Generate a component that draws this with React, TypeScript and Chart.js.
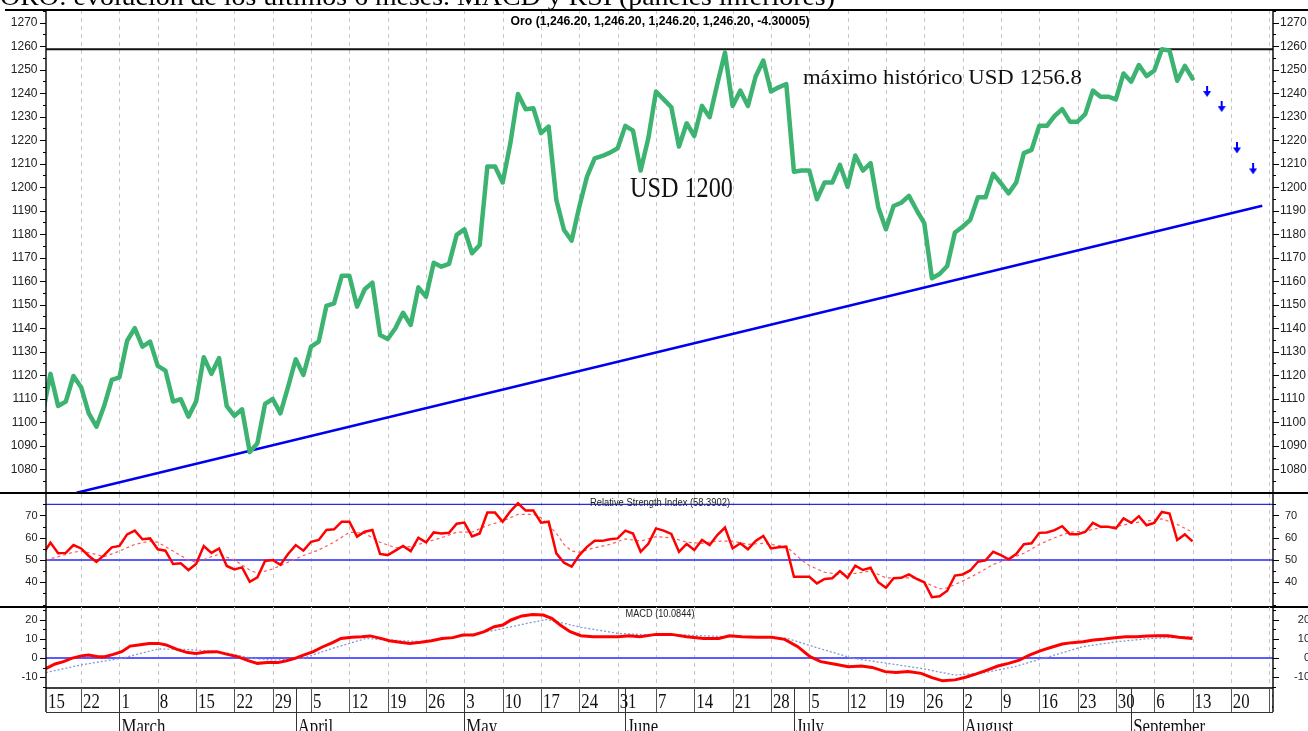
import React, { useEffect, useRef } from "react";
import { Chart, registerables } from "chart.js";

Chart.register(...registerables);

// ---------------- DATA ----------------
// trading-day index 0 = Mon 15 Feb 2010
const priceValues = [
  1104, 1120.6, 1106.9, 1108.8, 1119.7, 1114.9, 1103.8, 1098.1, 1106.9, 1118,
  1119.1, 1134.7, 1140, 1132.2, 1134.3, 1124, 1122, 1108.8, 1109.8, 1102.4,
  1108.8, 1127.7, 1120.6, 1127.3, 1106.9, 1102.7, 1105.5, 1087.3, 1091.1, 1107.8,
  1109.9, 1103.8, 1115.1, 1126.8, 1120.1, 1132.2, 1134.3, 1149.5, 1150.6, 1162.3,
  1162.3, 1149.2, 1156.6, 1159.4, 1137.1, 1135.4, 1140, 1146.6, 1141.4, 1157.4,
  1153.4, 1167.9, 1166.2, 1167.4, 1179.7, 1182.1, 1171.9, 1175.4, 1208.8, 1208.8,
  1202, 1218.7, 1239.7, 1233.2, 1233.6, 1223, 1225.8, 1194.6, 1181.8, 1177.3,
  1191.8, 1204.5, 1212.3, 1213.3, 1214.7, 1216.6, 1226.1, 1224.1, 1207.1, 1220.8,
  1240.7, 1237.4, 1234, 1217.3, 1227.2, 1221.8, 1234.6, 1229.8, 1243.9, 1257.3,
  1234.6, 1241.1, 1234.6, 1247.1, 1253.9, 1240.7, 1242.5, 1243.9, 1206.6, 1207.1,
  1207.1, 1194.9, 1202, 1202, 1209.5, 1200.2, 1213.5, 1207.1, 1210.2, 1191.5,
  1182.1, 1192, 1193.4, 1196.3, 1190.3, 1184.7, 1161.3, 1163.1, 1166.5, 1180.7,
  1183.2, 1186.1, 1195.7, 1195.7, 1205.7, 1201.7, 1197.4, 1202, 1214.5, 1215.9,
  1226.1, 1226.1, 1230.3, 1233.2, 1227.9, 1227.9, 1231.1, 1241.1, 1238.5, 1238.5,
  1237.4, 1248.4, 1244.9, 1252, 1247.3, 1249.6, 1258.7, 1258.1, 1245.3, 1251.6,
  1246.2,
];

const rsiValues = [
  52.5, 57.8, 53, 53.2, 56.7, 55.2, 51.8, 49.2, 52.2, 55.7,
  56.3, 61.5, 63.2, 59.3, 59.7, 54.8, 54.2, 48.2, 48.5, 45.5,
  48.2, 56.3, 53.2, 55.2, 47.3, 45.8, 46.7, 40.2, 42.2, 49.6,
  50, 47.8, 52.7, 56.7, 54.2, 58.2, 59, 63.5, 63.8, 67.2,
  67.2, 60.5, 62.7, 63.5, 52.7, 52.2, 54.2, 56.3, 54, 60,
  57.9, 62.4, 61.9, 62.2, 66.3, 66.8, 60.6, 61.9, 71.3, 71.3,
  67.2, 71.9, 75.5, 72.2, 72.2, 66.8, 67.2, 53, 48.8, 47,
  52.2, 55.9, 58.6, 58.6, 59.3, 59.7, 63.2, 61.9, 53.7, 57.3,
  64.2, 63.2, 61.7, 53.7, 57.2, 54.5, 59, 56.7, 61.2, 64.6,
  55.2, 57.5, 54.8, 58.6, 60.8, 55.2, 55.7, 56, 42.5, 42.5,
  42.5, 39.5, 41.5, 41.8, 45, 42, 47.5, 45.5, 46.5, 40,
  37.5, 41.8, 42, 43.5, 41.5, 40, 33.3, 33.7, 36.2, 43,
  43.5, 45.3, 49.2, 49.8, 53.7, 52.2, 50.3, 52.7, 57.1, 57.5,
  62.2, 62.4, 63.4, 65.2, 61.6, 61.6, 62.6, 66.7, 64.9, 64.9,
  64.2, 68.7, 66.7, 69.7, 65.6, 66.7, 71.6, 70.9, 59, 61.5,
  58.4,
];

const rsiSignalIdx = [
  0.4, 2, 4, 5, 7, 8, 10, 12, 14, 15, 17, 19, 20, 22, 23, 25, 27, 28, 30, 32,
  34, 36, 38, 40, 42, 44, 46, 48, 50, 52, 54, 56, 58, 60, 62, 64, 65, 67, 68, 69,
  70, 72, 74, 76, 78, 80, 82, 84, 86, 88, 90, 92, 94, 96, 97, 98, 99, 100, 102, 104,
  106, 108, 110, 112, 114, 116, 117, 118, 120, 122, 124, 126, 128, 130, 132, 134, 136, 138, 140, 142,
  144, 146, 148, 150,
];
const rsiSignalVals = [
  50, 51.5, 53.5, 54, 52.5, 51.5, 54, 57, 58.5, 58, 54, 50, 49, 51.5, 52.5, 50, 45.5, 44, 46, 49,
  52, 54.5, 58, 62.5, 62, 58, 55.5, 56, 58, 60, 62.5, 62.5, 65.5, 67.5, 70.5, 70.5, 69, 62, 57, 54,
  53.5, 55.5, 57, 59.5, 58.5, 60.5, 60, 58, 57.5, 58.5, 58.5, 57, 57.5, 56.5, 56, 53, 50, 47.5, 44.5, 43.5,
  44, 45, 42, 42, 42, 38.5, 37, 37.5, 40.5, 44, 48, 50.5, 53, 57, 60, 62.5, 63, 64.5, 65, 66.5,
  67.5, 68.5, 66, 62.5,
];

const macdIdx = [
  0.4, 1.6, 2.7, 3.75, 5, 6, 7.2, 8.1, 9.2, 10.3, 11.4, 12.5, 13.9, 15.1, 16.1, 17.5, 18.9, 20, 21.3, 22.7,
  24.1, 25.4, 26.8, 28, 29.3, 30.7, 31.8, 32.9, 34.1, 35.3, 36.4, 37.8, 38.9, 40.3, 41.6, 42.7, 44.1, 45.2, 46.6, 47.9,
  49.3, 50.7, 52.1, 53.5, 54.8, 56.2, 57.6, 58.9, 60, 61.1, 62.5, 63.9, 65.3, 66.4, 67.5, 68.8, 70.2, 71.8, 73.5, 75.1,
  76.5, 77.9, 80, 82, 84, 86.2, 88.2, 89.6, 91.2, 93.2, 95.1, 96.8, 98.5, 100.1, 101.5, 103.2, 105.1, 106.8, 108.2, 109.9,
  111.3, 112.9, 114.6, 116, 117.4, 119, 120.4, 121.8, 123.2, 124.6, 126, 127.4, 128.8, 130.2, 131.6, 133, 134.3, 135.7, 137.1, 138.5,
  139.9, 141.3, 142.7, 144.1, 145.4, 146.8, 148.2, 150,
];
const macdVals = [
  -5.5, -3.1, -1.9, -0.2, 1.1, 1.5, 0.7, 0.7, 1.9, 3.3, 6.2, 6.8, 7.6, 7.6, 6.8, 4.5, 2.8, 2.4, 3.1, 3.3,
  1.9, 0.7, -1.4, -2.8, -2.4, -2.4, -1.4, -0.2, 1.6, 3.3, 5.6, 8, 10.2, 10.8, 11.1, 11.5, 10.2, 9, 8.2, 7.6,
  8.2, 9, 10.1, 10.6, 12, 12, 13.7, 16.3, 17.2, 19.8, 21.9, 22.7, 22.4, 20.7, 17.2, 13.7, 11.6, 11.1, 11.1, 11.1,
  11.6, 11.1, 12.3, 12.3, 11.1, 10.2, 10.2, 11.6, 11.1, 10.8, 10.8, 9.7, 5.9, 0.7, -1.9, -3.1, -4.5, -4.2, -4.9, -7.1,
  -7.6, -7.1, -8, -10.2, -11.9, -11.4, -10, -8.3, -6.3, -4.2, -2.8, -1.1, 1.6, 3.8, 5.6, 7.3, 8, 8.5, 9.4, 9.9,
  10.6, 11.1, 11.1, 11.5, 11.6, 11.6, 10.8, 10.1,
];

const macdSignalIdx = [
  0.4, 5, 10.2, 15.1, 18.6, 23, 27.4, 30.1, 33.9, 37.8, 42.2, 44.9, 49.3, 54.8, 59.2, 63.6, 65.8, 70.2, 75.1, 79.3,
  83.5, 89, 95.1, 97.1, 101.3, 105.7, 110.2, 114.6, 119, 122.4, 126.8, 131.3, 135.7, 140.2, 144.6, 150,
];
const macdSignalVals = [
  -7.6, -3.6, -0.2, 4.7, 4.5, 3.3, -0.2, -1.1, -0.2, 5, 10.2, 9.4, 8.5, 11.5, 14.6, 18.4, 20.1, 16, 12.8, 12,
  12, 11.1, 10.8, 10.2, 5, -0.2, -2.8, -5.4, -8.9, -8, -4.5, 0.7, 5.9, 8.5, 10.2, 11.1,
];

const trendIdx = [4.4, 159.1];
const trendVals = [1070, 1192.1];
const resistanceLevel = 1258.7;
const arrowIdx = [151.9, 153.8, 155.8, 157.9];
const arrowVals = [1240.7, 1234.3, 1216.7, 1207.8];

const weekLabels = [
  "15", "22", "1", "8", "15", "22", "29", "5", "12", "19", "26", "3", "10", "17", "24", "31",
  "7", "14", "21", "28", "5", "12", "19", "26", "2", "9", "16", "23", "30", "6", "13", "20", "27",
];
const monthNames = ["March", "April", "May", "June", "July", "August", "September"];
const monthStartIdx = [10, 33, 55, 76, 98, 120, 142];

const priceMajorTicks = [1080, 1090, 1100, 1110, 1120, 1130, 1140, 1150, 1160, 1170, 1180, 1190, 1200, 1210, 1220, 1230, 1240, 1250, 1260, 1270];
const priceMinorTicks = [1075, 1085, 1095, 1105, 1115, 1125, 1135, 1145, 1155, 1165, 1175, 1185, 1195, 1205, 1215, 1225, 1235, 1245, 1255, 1265, 1275];
const rsiMajorTicks = [40, 50, 60, 70];
const rsiMinorTicks = [30, 35, 45, 55, 65, 75];
const rsiLevels = [50, 75];
const macdMajorTicks = [-10, 0, 10, 20];
const macdMinorTicks = [-15, -5, 5, 15, 25];

const titleText = "ORO: evolución de los últimos 6 meses. MACD y RSI (paneles inferiores)";
const headerText = "Oro (1,246.20, 1,246.20, 1,246.20, 1,246.20, -4.30005)";
const rsiTitle = "Relative Strength Index (58.3902)";
const macdTitle = "MACD (10.0844)";
const noteLow = "USD 1200";
const noteHigh = "máximo histórico USD 1256.8";

// ---------------- LAYOUT ----------------
const W = 1308;
const X_MIN = 0.4175;
const X_MAX = 160.5;
const SANS = '"Liberation Sans", Arial, sans-serif';
const SERIF = '"Liberation Serif", "Times New Roman", serif';

function seg(ctx: CanvasRenderingContext2D, x1: number, y1: number, x2: number, y2: number) {
  ctx.beginPath();
  ctx.moveTo(x1, y1);
  ctx.lineTo(x2, y2);
  ctx.stroke();
}

function drawText(
  ctx: CanvasRenderingContext2D,
  text: string,
  x: number,
  y: number,
  font: string,
  opts: { align?: string; baseline?: CanvasTextBaseline; width?: number; scaleX?: number; color?: string } = {}
) {
  ctx.save();
  ctx.font = font;
  ctx.fillStyle = opts.color || "#000";
  ctx.textBaseline = opts.baseline || "alphabetic";
  ctx.textAlign = "left";
  const w = ctx.measureText(text).width;
  const sx = opts.width ? opts.width / w : opts.scaleX || 1;
  let left = x;
  if (opts.align === "center") left = x - (w * sx) / 2;
  else if (opts.align === "right") left = x - w * sx;
  ctx.translate(left, y);
  ctx.scale(sx, 1);
  ctx.fillText(text, 0, 0);
  ctx.restore();
}

function drawWeekGrid(chart: any) {
  const { ctx, chartArea: a, scales } = chart;
  const x = scales.x;
  ctx.save();
  ctx.strokeStyle = "#c6c6c6";
  ctx.lineWidth = 1;
  ctx.setLineDash([4, 4]);
  weekLabels.forEach((_, k) => {
    const px = x.getPixelForValue(k * 5);
    if (px <= a.left + 1 || px >= a.right - 0.5) return;
    const X = Math.round(px) + 0.5;
    seg(ctx, X, a.top, X, a.bottom);
  });
  ctx.restore();
}

function drawYAxes(
  chart: any,
  majors: number[],
  minors: number[],
  fontPx: number,
  rightX: number,
  rightAlign: string,
  axisExtra: number
) {
  const { ctx, chartArea: a, scales } = chart;
  const y = scales.y;
  ctx.save();
  ctx.strokeStyle = "#000";
  ctx.lineWidth = 1;
  const tick = (v: number, len: number) => {
    const py = Math.round(y.getPixelForValue(v)) + 0.5;
    seg(ctx, a.left - len, py, a.left, py);
    seg(ctx, a.right, py, a.right + len, py);
  };
  majors.forEach((v) => tick(v, 6));
  minors.forEach((v) => tick(v, 3));
  ctx.lineWidth = 1.4;
  seg(ctx, a.left, a.top, a.left, a.bottom + axisExtra);
  seg(ctx, a.right, a.top, a.right, a.bottom + axisExtra);
  ctx.restore();
  majors.forEach((v) => {
    const py = y.getPixelForValue(v);
    drawText(ctx, String(v), 37.5, py, `${fontPx}px ${SANS}`, { align: "right", baseline: "middle", color: "#222" });
    drawText(ctx, String(v), rightX, py, `${fontPx}px ${SANS}`, { align: rightAlign, baseline: "middle", color: "#222" });
  });
}

let arrowImg: HTMLCanvasElement | null = null;
function getArrow() {
  if (arrowImg) return arrowImg;
  const c = document.createElement("canvas");
  c.width = 8;
  c.height = 11;
  const g = c.getContext("2d")!;
  g.fillStyle = "#0000ff";
  g.fillRect(3, 0, 2, 6);
  g.beginPath();
  g.moveTo(0, 5);
  g.lineTo(8, 5);
  g.lineTo(4, 11);
  g.closePath();
  g.fill();
  arrowImg = c;
  return c;
}

const pricePlugin = {
  id: "priceDecor",
  beforeDatasetsDraw(chart: any) {
    drawWeekGrid(chart);
  },
  afterDraw(chart: any) {
    const { ctx, chartArea: a, scales } = chart;
    drawYAxes(chart, priceMajorTicks, priceMinorTicks, 12, 1280, "left", 0);
    ctx.save();
    ctx.strokeStyle = "#000";
    ctx.lineWidth = 2;
    seg(ctx, 5, a.top, W, a.top);
    seg(ctx, 0, a.bottom, W, a.bottom);
    ctx.restore();
    drawText(ctx, titleText, 0, 5, `26px ${SERIF}`, { width: 835 });
    drawText(ctx, headerText, 660, 22, `bold 12px ${SANS}`, { align: "center", baseline: "middle", width: 299 });
    const x = scales.x;
    const y = scales.y;
    drawText(ctx, noteLow, x.getPixelForValue(76.6), y.getPixelForValue(1196), `30px ${SERIF}`, { width: 103, color: "#111" });
    drawText(ctx, noteHigh, x.getPixelForValue(99.17), y.getPixelForValue(1244), `22px ${SERIF}`, { width: 279, color: "#111" });
  },
};

const rsiPlugin = {
  id: "rsiDecor",
  beforeDatasetsDraw(chart: any) {
    drawWeekGrid(chart);
  },
  afterDraw(chart: any) {
    const { ctx, chartArea: a } = chart;
    drawYAxes(chart, rsiMajorTicks, rsiMinorTicks, 11, 1285, "left", 0);
    ctx.save();
    ctx.strokeStyle = "#000";
    ctx.lineWidth = 2;
    seg(ctx, 0, a.bottom, W, a.bottom);
    ctx.restore();
    drawText(ctx, rsiTitle, 660, 11, `10px ${SANS}`, { align: "center", baseline: "middle", width: 140, color: "#222" });
  },
};

const macdPlugin = {
  id: "macdDecor",
  beforeDatasetsDraw(chart: any) {
    drawWeekGrid(chart);
  },
  afterDraw(chart: any) {
    const { ctx, chartArea: a, scales } = chart;
    const x = scales.x;
    const rowTop = a.bottom;
    const rowMid = a.bottom + 24;
    const bottom = chart.height;
    drawYAxes(chart, macdMajorTicks, macdMinorTicks, 11, 1310, "right", 24);
    drawText(ctx, macdTitle, 660, 8, `10px ${SANS}`, { align: "center", baseline: "middle", width: 69, color: "#222" });
    ctx.save();
    ctx.strokeStyle = "#000";
    ctx.lineWidth = 1.6;
    seg(ctx, a.left, rowTop, a.right, rowTop);
    ctx.lineWidth = 1;
    ctx.strokeStyle = "#333";
    seg(ctx, a.left, rowMid + 0.5, a.right, rowMid + 0.5);
    ctx.strokeStyle = "#555";
    weekLabels.forEach((_, k) => {
      const px = x.getPixelForValue(k * 5);
      if (px <= a.left + 1 || px >= a.right - 0.5) return;
      const X = Math.round(px) + 0.5;
      seg(ctx, X, rowTop, X, rowMid);
    });
    ctx.strokeStyle = "#333";
    monthStartIdx.forEach((mi) => {
      const X = Math.round(x.getPixelForValue(mi)) + 0.5;
      seg(ctx, X, rowTop, X, bottom);
    });
    ctx.beginPath();
    ctx.rect(a.left, rowTop, a.right - a.left, bottom - rowTop);
    ctx.clip();
    weekLabels.forEach((lab, k) => {
      const px = Math.max(x.getPixelForValue(k * 5), a.left);
      drawText(ctx, lab, px + 2, rowTop + 20, `21px ${SERIF}`, { scaleX: 0.8, color: "#111" });
    });
    monthNames.forEach((m, j) => {
      const px = x.getPixelForValue(monthStartIdx[j]);
      drawText(ctx, m, px + 2, rowTop + 45, `21px ${SERIF}`, { scaleX: 0.8, color: "#111" });
    });
    ctx.restore();
  },
};

function baseOptions(padding: any, yMin: number, yMax: number) {
  return {
    animation: false,
    responsive: false,
    maintainAspectRatio: false,
    events: [],
    layout: { autoPadding: false, padding },
    plugins: { legend: { display: false }, tooltip: { enabled: false } },
    elements: { point: { radius: 0 }, line: { tension: 0 } },
    scales: {
      x: { type: "linear", display: false, min: X_MIN, max: X_MAX },
      y: { type: "linear", display: false, min: yMin, max: yMax },
    },
  };
}

const pts = (xs: number[], ys: number[]) => xs.map((xv, i) => ({ x: xv, y: ys[i] }));
const seq = (ys: number[]) => ys.map((v, i) => ({ x: i, y: v }));

export default function App() {
  const priceRef = useRef<HTMLCanvasElement>(null);
  const rsiRef = useRef<HTMLCanvasElement>(null);
  const macdRef = useRef<HTMLCanvasElement>(null);

  useEffect(() => {
    document.body.style.margin = "0";
    const charts: Chart[] = [];

    charts.push(
      new Chart(priceRef.current!, {
        type: "line",
        data: {
          datasets: [
            {
              data: seq(priceValues),
              borderColor: "#3cb371",
              borderWidth: 4.5,
              pointRadius: 0,
              borderJoinStyle: "round",
              borderCapStyle: "round",
              clip: 0,
            },
            { data: pts(trendIdx, trendVals), borderColor: "#0000f0", borderWidth: 2.5, pointRadius: 0, clip: 0 },
            {
              data: [
                { x: X_MIN, y: resistanceLevel },
                { x: X_MAX, y: resistanceLevel },
              ],
              borderColor: "#111",
              borderWidth: 2,
              pointRadius: 0,
              clip: 0,
            },
            {
              data: pts(arrowIdx, arrowVals),
              showLine: false,
              pointStyle: getArrow(),
              pointRadius: 6,
              borderWidth: 0,
              clip: false,
            },
          ],
        } as any,
        options: baseOptions({ left: 46, right: 35, top: 10, bottom: 2 }, 1069.9, 1275.4) as any,
        plugins: [pricePlugin],
      })
    );

    charts.push(
      new Chart(rsiRef.current!, {
        type: "line",
        data: {
          datasets: [
            { data: seq(rsiValues), borderColor: "#ff0000", borderWidth: 2.5, pointRadius: 0, clip: 0 },
            {
              data: pts(rsiSignalIdx, rsiSignalVals),
              borderColor: "#ff5a5a",
              borderWidth: 1.2,
              borderDash: [3, 3],
              pointRadius: 0,
              clip: 0,
            },
            {
              data: [
                { x: X_MIN, y: rsiLevels[0] },
                { x: X_MAX, y: rsiLevels[0] },
              ],
              borderColor: "#5b5bff",
              borderWidth: 2,
              pointRadius: 0,
              clip: 0,
            },
            {
              data: [
                { x: X_MIN, y: rsiLevels[1] },
                { x: X_MAX, y: rsiLevels[1] },
              ],
              borderColor: "#2a2ae6",
              borderWidth: 1.4,
              pointRadius: 0,
              clip: 0,
            },
          ],
        } as any,
        options: baseOptions({ left: 46, right: 35, top: 2, bottom: 1 }, 28.88, 79.66) as any,
        plugins: [rsiPlugin],
      })
    );

    charts.push(
      new Chart(macdRef.current!, {
        type: "line",
        data: {
          datasets: [
            { data: pts(macdIdx, macdVals), borderColor: "#ff0000", borderWidth: 3, pointRadius: 0, clip: 0 },
            {
              data: pts(macdSignalIdx, macdSignalVals),
              borderColor: "#7f9ad0",
              borderWidth: 1.3,
              borderDash: [2, 2],
              pointRadius: 0,
              clip: 0,
            },
            {
              data: [
                { x: X_MIN, y: 0 },
                { x: X_MAX, y: 0 },
              ],
              borderColor: "#5b5bff",
              borderWidth: 2,
              pointRadius: 0,
              clip: 0,
            },
          ],
        } as any,
        options: baseOptions({ left: 46, right: 35, top: 1, bottom: 43 }, -15.63, 26.56) as any,
        plugins: [macdPlugin],
      })
    );

    return () => charts.forEach((c) => c.destroy());
  }, []);

  const cv = (top: number): React.CSSProperties => ({ position: "absolute", left: 0, top, display: "block" });

  return (
    <div style={{ position: "relative", width: W, height: 731, overflow: "hidden", background: "#fff" }}>
      <canvas ref={priceRef} width={W} height={495} style={cv(0)} />
      <canvas ref={rsiRef} width={W} height={116} style={cv(492)} />
      <canvas ref={macdRef} width={W} height={125} style={cv(606)} />
    </div>
  );
}
